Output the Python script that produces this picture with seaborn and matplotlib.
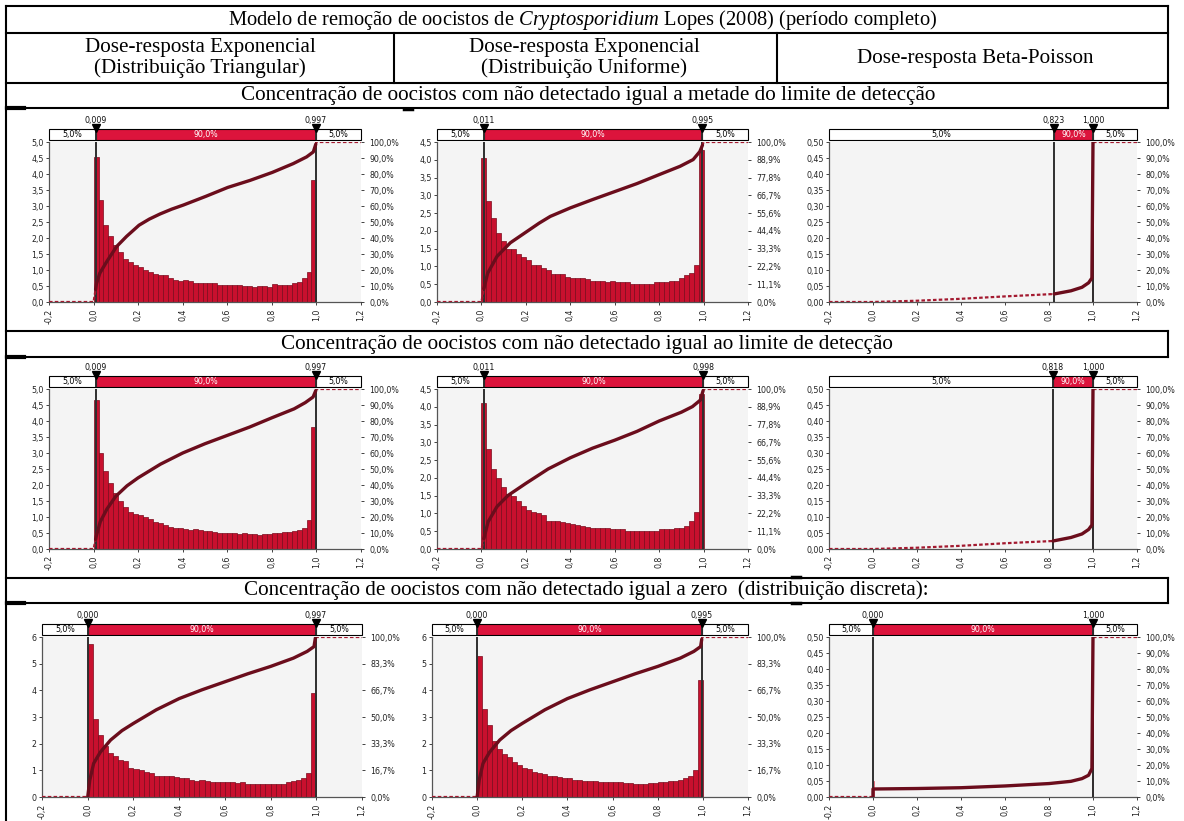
import numpy as np
import pandas as pd
import matplotlib
matplotlib.use("Agg")
import matplotlib.pyplot as plt
import seaborn as sns
from matplotlib.lines import Line2D

sns.set_theme(style="ticks")
plt.rcParams["font.family"] = ["DejaVu Sans"]
plt.rcParams["mathtext.fontset"] = "custom"
plt.rcParams["mathtext.rm"] = "Liberation Serif"
plt.rcParams["mathtext.it"] = "Liberation Serif:italic"

# ------------------------------------------------------------------ data
title_text = "Modelo de remoção de oocistos de $\\mathit{Cryptosporidium}$ Lopes (2008) (período completo)"
col_headers = ["Dose-resposta Exponencial\n(Distribuição Triangular)",
               "Dose-resposta Exponencial\n(Distribuição Uniforme)",
               "Dose-resposta Beta-Poisson"]
row_titles = ["Concentração de oocistos com não detectado igual a metade do limite de detecção",
              "Concentração de oocistos com não detectado igual ao limite de detecção",
              "Concentração de oocistos com não detectado igual a zero  (distribuição discreta):"]

band_labels = ["5,0%", "90,0%", "5,0%"]
x_ticks = [-0.2, 0.0, 0.2, 0.4, 0.6, 0.8, 1.0, 1.2]

lower_delim = [0.009, 0.011, 0.823, 0.009, 0.011, 0.818, 0.000, 0.000, 0.000]
upper_delim = [0.997, 0.995, 1.000, 0.997, 0.998, 1.000, 0.997, 0.995, 1.000]

ticks_50 = [0.0, 0.5, 1.0, 1.5, 2.0, 2.5, 3.0, 3.5, 4.0, 4.5, 5.0]
ticks_45 = [0.0, 0.5, 1.0, 1.5, 2.0, 2.5, 3.0, 3.5, 4.0, 4.5]
ticks_05 = [0.0, 0.05, 0.10, 0.15, 0.20, 0.25, 0.30, 0.35, 0.40, 0.45, 0.50]
ticks_6 = [0, 1, 2, 3, 4, 5, 6]
y_ticks = [ticks_50, ticks_45, ticks_05, ticks_50, ticks_45, ticks_05, ticks_6, ticks_6, ticks_05]
y_dec = [1, 1, 2, 1, 1, 2, 0, 0, 2]

# histogram densities (45 equal bins between 0 and 1)
tri_half = [4.53, 3.2, 2.4, 2.05, 1.78, 1.57, 1.35, 1.25, 1.15, 1.1,
            1.0, 0.95, 0.88, 0.85, 0.85, 0.75, 0.7, 0.65, 0.7, 0.65,
            0.6, 0.6, 0.6, 0.6, 0.6, 0.52, 0.52, 0.52, 0.52, 0.52,
            0.5, 0.5, 0.48, 0.5, 0.5, 0.48, 0.55, 0.52, 0.52, 0.52,
            0.58, 0.62, 0.75, 0.95, 3.8]
uni_half = [4.05, 2.85, 2.37, 1.93, 1.72, 1.5, 1.5, 1.35, 1.27, 1.17,
            1.05, 1.05, 0.95, 0.9, 0.8, 0.8, 0.8, 0.7, 0.68, 0.68,
            0.68, 0.65, 0.6, 0.6, 0.6, 0.55, 0.6, 0.57, 0.55, 0.57,
            0.52, 0.52, 0.52, 0.5, 0.52, 0.55, 0.55, 0.55, 0.6, 0.6,
            0.68, 0.75, 0.82, 1.05, 4.27]
tri_lim = [4.65, 3.0, 2.45, 2.05, 1.75, 1.5, 1.3, 1.15, 1.1, 1.05,
           1.0, 0.95, 0.85, 0.8, 0.75, 0.7, 0.65, 0.65, 0.62, 0.6,
           0.62, 0.6, 0.55, 0.55, 0.52, 0.5, 0.5, 0.5, 0.5, 0.48,
           0.5, 0.48, 0.48, 0.45, 0.48, 0.48, 0.5, 0.5, 0.52, 0.52,
           0.55, 0.6, 0.65, 0.9, 3.8]
uni_lim = [4.1, 2.8, 2.25, 2.0, 1.75, 1.55, 1.5, 1.35, 1.2, 1.1,
           1.05, 1.0, 0.95, 0.8, 0.8, 0.8, 0.75, 0.72, 0.7, 0.68,
           0.65, 0.62, 0.6, 0.58, 0.58, 0.58, 0.55, 0.55, 0.55, 0.52,
           0.5, 0.5, 0.5, 0.52, 0.5, 0.5, 0.55, 0.55, 0.55, 0.58,
           0.6, 0.65, 0.8, 1.05, 4.35]
tri_zero = [5.75, 2.93, 2.33, 1.93, 1.65, 1.55, 1.4, 1.35, 1.1, 1.05,
            1.0, 0.95, 0.9, 0.8, 0.8, 0.8, 0.8, 0.75, 0.7, 0.7,
            0.65, 0.6, 0.62, 0.6, 0.58, 0.58, 0.58, 0.55, 0.55, 0.52,
            0.55, 0.5, 0.48, 0.5, 0.5, 0.5, 0.5, 0.5, 0.5, 0.55,
            0.6, 0.62, 0.7, 0.9, 3.9]
uni_zero = [5.3, 3.3, 2.7, 2.1, 1.8, 1.6, 1.5, 1.3, 1.2, 1.1,
            1.05, 0.95, 0.9, 0.85, 0.8, 0.8, 0.75, 0.7, 0.7, 0.65,
            0.65, 0.6, 0.6, 0.6, 0.58, 0.58, 0.55, 0.55, 0.55, 0.52,
            0.52, 0.5, 0.5, 0.5, 0.52, 0.52, 0.55, 0.55, 0.6, 0.6,
            0.65, 0.7, 0.8, 1.0, 4.4]
hist_heights = {0: tri_half, 1: uni_half, 3: tri_lim, 4: uni_lim, 6: tri_zero, 7: uni_zero}

# Beta-Poisson spikes (bin left, bin right, density; tall ones are clipped)
bp_spikes = {2: [(0.995, 1.0, 40.0)],
             5: [(0.995, 1.0, 40.0)],
             8: [(0.0, 0.003, 0.05), (0.995, 1.0, 40.0)]}

# cumulative curves (x, cumulative %)
cdf_tri_half_x = [-0.2, 0.0, 0.013, 0.028, 0.058, 0.103, 0.148, 0.204, 0.25, 0.298, 0.35, 0.403,
                  0.503, 0.602, 0.702, 0.802, 0.896, 0.956, 0.986, 0.998, 1.0, 1.2]
cdf_tri_half_p = [0, 0, 11.4, 18, 25, 34.6, 41, 48, 51.8, 55, 58, 60.6,
                  66, 71.6, 76, 81, 86.5, 90.7, 93.8, 99, 100, 100]
cdf_uni_half_x = [-0.2, 0.0, 0.01, 0.028, 0.07, 0.13, 0.204, 0.26, 0.31, 0.4, 0.5, 0.6,
                  0.7, 0.8, 0.894, 0.953, 0.983, 0.998, 1.0, 1.2]
cdf_uni_half_p = [0, 0, 7.7, 18, 28.5, 37, 44, 49.3, 53.5, 58.8, 64, 69,
                  74, 79.6, 84.8, 89, 94, 99, 100, 100]
cdf_tri_lim_x = [-0.2, 0.0, 0.012, 0.03, 0.06, 0.1, 0.15, 0.2, 0.3, 0.4, 0.5,
                 0.6, 0.7, 0.8, 0.9, 0.95, 0.985, 0.997, 1.0, 1.2]
cdf_tri_lim_p = [0, 0, 8, 17, 25, 33, 39.5, 44.5, 53, 60, 65.8,
                 71, 76.2, 82, 87.6, 91.5, 95, 99, 100, 100]
cdf_uni_lim_x = [-0.2, 0.0, 0.012, 0.03, 0.07, 0.12, 0.2, 0.3, 0.4, 0.5, 0.6,
                 0.7, 0.8, 0.9, 0.95, 0.985, 0.998, 1.0, 1.2]
cdf_uni_lim_p = [0, 0, 7, 17, 26.5, 33.5, 41, 50, 57, 63, 68,
                 73.5, 80, 85.5, 89, 93, 99, 100, 100]
cdf_tri_zero_x = [-0.2, 0.0, 0.009, 0.026, 0.055, 0.1, 0.15, 0.2, 0.3, 0.4, 0.5, 0.6,
                  0.7, 0.8, 0.9, 0.96, 0.99, 0.996, 1.0, 1.2]
cdf_tri_zero_p = [0, 0, 10.5, 21, 28, 35.6, 41.5, 46, 54.5, 61.5, 67, 72,
                  77, 81.6, 86.8, 91, 94, 99.4, 100, 100]
cdf_bp_half_x = [-0.2, 0.0, 0.2, 0.4, 0.6, 0.823, 0.9, 0.95, 0.98, 0.995, 1.0, 1.2]
cdf_bp_half_p = [0, 0, 0.8, 2.0, 3.5, 5.0, 7.0, 9.2, 12.0, 15.0, 100, 100]
cdf_bp_lim_x = [-0.2, 0.0, 0.2, 0.4, 0.6, 0.818, 0.9, 0.95, 0.98, 0.995, 1.0, 1.2]
cdf_bp_lim_p = [0, 0, 0.8, 2.0, 3.6, 5.0, 7.2, 9.4, 12.2, 15.0, 100, 100]
cdf_bp_zero_x = [-0.2, 0.0, 0.0, 0.2, 0.4, 0.6, 0.8, 0.9, 0.95, 0.98, 0.995, 1.0, 1.2]
cdf_bp_zero_p = [0, 0, 5.0, 5.3, 5.8, 6.9, 8.4, 9.8, 11.5, 13.6, 17.8, 100, 100]
cdf_curves = {0: (cdf_tri_half_x, cdf_tri_half_p), 1: (cdf_uni_half_x, cdf_uni_half_p),
              2: (cdf_bp_half_x, cdf_bp_half_p),
              3: (cdf_tri_lim_x, cdf_tri_lim_p), 4: (cdf_uni_lim_x, cdf_uni_lim_p),
              5: (cdf_bp_lim_x, cdf_bp_lim_p),
              6: (cdf_tri_zero_x, cdf_tri_zero_p), 7: (cdf_tri_zero_x, cdf_tri_zero_p),
              8: (cdf_bp_zero_x, cdf_bp_zero_p)}

# ------------------------------------------------------------------ layout / style
W, H = 1184, 821
fig = plt.figure(figsize=(W / 100, H / 100), dpi=100)
fig.patch.set_facecolor("white")

RED = "#DC143C"
BAR_FACE = "#C8102E"
BAR_EDGE = "#7A0A1C"
CDF_COL = "#6B0D1C"
DASH_COL = "#A3192F"
DELIM_COL = "#2E2E2E"
TICK_FS = 5.7
SERIF_FS = 15.2
TITLE_FS = 14.8


def rect(x0, y0, x1, y1):
    return [x0 / W, 1 - y1 / H, (x1 - x0) / W, (y1 - y0) / H]


def hline(y, x0, x1, lw=1.5):
    fig.add_artist(Line2D([x0 / W, x1 / W], [1 - y / H, 1 - y / H], color="black", lw=lw,
                          transform=fig.transFigure, solid_capstyle="projecting"))


def vline(x, y0, y1, lw=1.5):
    fig.add_artist(Line2D([x / W, x / W], [1 - y0 / H, 1 - y1 / H], color="black", lw=lw,
                          transform=fig.transFigure, solid_capstyle="projecting"))


def comma(v, nd):
    return f"{v:.{nd}f}".replace(".", ",")


def cdf_segments(xs, ps, lo, hi):
    xs = np.asarray(xs, float)
    ps = np.asarray(ps, float)
    b_lo = [] if np.any(np.isclose(xs, lo)) else [(lo, float(np.interp(lo, xs, ps)))]
    b_hi = [] if np.any(np.isclose(xs, hi)) else [(hi, float(np.interp(hi, xs, ps)))]
    pts = list(zip(xs, ps))
    left = [q for q in pts if q[0] <= lo + 1e-9] + b_lo
    mid = b_lo + [q for q in pts if lo - 1e-9 <= q[0] <= hi + 1e-9] + b_hi
    right = b_hi + [q for q in pts if q[0] >= hi - 1e-9]
    return left, mid, right


plot_y = [(142, 302), (389, 549), (637, 797)]
bar_y = [(129, 140), (376, 387), (624, 635)]
col_x = [[(49, 361), (437, 748), (829, 1137)],
         [(49, 361), (437, 748), (829, 1137)],
         [(42, 362), (432, 748), (829, 1137)]]

for k in range(9):
    r, c = divmod(k, 3)
    x0, x1 = col_x[r][c]
    y0, y1 = plot_y[r]
    b0, b1 = bar_y[r]
    lo, hi = lower_delim[k], upper_delim[k]
    yt = y_ticks[k]
    ymax = yt[-1]

    ax = fig.add_axes(rect(x0, y0, x1, y1))
    ax.set_facecolor("#F4F4F4")
    if k in hist_heights:
        h = [float(v) for v in hist_heights[k]]
        edges = [float(e) for e in np.linspace(0, 1, len(h) + 1)]
        centers = [(edges[i] + edges[i + 1]) / 2 for i in range(len(h))]
        df = pd.DataFrame({"x": centers, "w": h})
        sns.histplot(data=df, x="x", weights="w", bins=edges, ax=ax, color=BAR_FACE, alpha=1,
                     edgecolor=BAR_EDGE, linewidth=0.5)
    else:
        for (a, b, hh) in bp_spikes[k]:
            df = pd.DataFrame({"x": [(a + b) / 2], "w": [hh]})
            sns.histplot(data=df, x="x", weights="w", bins=[a, b], ax=ax, color=BAR_FACE,
                         alpha=1, edgecolor="#E06070", linewidth=0.5)
    ax.set_xlim(-0.2, 1.2)
    ax.set_ylim(0, ymax)
    ax.set_xlabel("")
    ax.set_ylabel("")
    ax.set_yticks(yt)
    ax.set_yticklabels([comma(v, y_dec[k]) for v in yt])
    ax.set_xticks(x_ticks)
    ax.set_xticklabels([comma(v, 1) for v in x_ticks], rotation=90)
    ax.tick_params(axis="both", labelsize=TICK_FS, length=2.5, width=0.6, pad=1.5,
                   colors="#222222", direction="out", bottom=True, left=True)
    ax.tick_params(axis="x", pad=2)
    for s in ["top", "right"]:
        ax.spines[s].set_visible(False)
    for s in ["left", "bottom"]:
        ax.spines[s].set_color("#555555")
        ax.spines[s].set_linewidth(0.9)

    ax2 = ax.twinx()
    ax2.set_ylim(0, 100)
    pct = [v / ymax * 100 for v in yt]
    ax2.set_yticks(pct)
    ax2.set_yticklabels([comma(p, 1) + "%" for p in pct])
    ax2.tick_params(axis="y", labelsize=TICK_FS, length=2, width=0.6, pad=4,
                    colors="#222222", right=True)
    for s in ax2.spines.values():
        s.set_visible(False)
    ax2.axvline(lo, color=DELIM_COL, lw=1.4, zorder=2)
    ax2.axvline(hi, color=DELIM_COL, lw=1.4, zorder=2)

    cx, cp = cdf_curves[k]
    left, mid, right = cdf_segments(cx, cp, lo, hi)
    for seg, style in [(left, "dash"), (right, "dash"), (mid, "solid")]:
        if len(seg) < 2:
            continue
        sdf = pd.DataFrame({"x": [q[0] for q in seg], "p": [q[1] for q in seg]})
        if style == "solid":
            sns.lineplot(data=sdf, x="x", y="p", ax=ax2, color=CDF_COL, lw=2.4, estimator=None,
                         sort=False, legend=False, zorder=4)
        else:
            sns.lineplot(data=sdf, x="x", y="p", ax=ax2, color=DASH_COL, lw=1.6, estimator=None,
                         sort=False, legend=False, linestyle=(0, (1.6, 1.0)), zorder=3)
    ax2.set_xlim(-0.2, 1.2)
    ax2.set_xlabel("")
    ax2.set_ylabel("")

    # delimiter band above the chart
    axb = fig.add_axes(rect(x0, b0, x1, b1))
    axb.set_xlim(-0.2, 1.2)
    axb.set_ylim(0, 1)
    axb.axis("off")
    lefts = [-0.2, lo, hi]
    widths = [lo + 0.2, hi - lo, 1.2 - hi]
    bars = axb.barh([0.5, 0.5, 0.5], widths, left=lefts, height=1,
                    color=["white", RED, "white"], edgecolor="black", linewidth=0.8)
    for p in bars.patches:
        p.set_clip_on(False)
    for i, (l, w_, lab) in enumerate(zip(lefts, widths, band_labels)):
        axb.text(l + w_ / 2, 0.5, lab, ha="center", va="center", fontsize=TICK_FS,
                 color="white" if i == 1 else "black")
    axb.vlines([lo, hi], 0, 1, color=DELIM_COL, lw=1.4)
    axb.plot([lo, hi], [1.12, 1.12], ls="none", marker="v", ms=5.5, color="black",
             clip_on=False)
    for v in (lo, hi):
        axb.text(v, 1.75, comma(v, 3), ha="center", va="center", fontsize=TICK_FS,
                 color="#111111", clip_on=False)

# ------------------------------------------------------------------ table frame and text
vline(6, 6, 821)
vline(1168, 6, 108)
for y in (6, 33, 83, 108):
    hline(y, 6, 1168)
vline(394, 33, 83)
vline(777, 33, 83)
for (ya, yb) in [(331, 357), (578, 603)]:
    hline(ya, 6, 1168)
    hline(yb, 6, 1168)
    vline(1168, ya, yb)
for y in (108, 357, 603):
    hline(y, 7, 24, lw=3)
hline(109, 404, 412, lw=2.5)
hline(577, 792, 800, lw=2.5)
hline(603, 792, 800, lw=2.5)

serif = dict(family="Liberation Serif", color="black", ha="center", va="center")
fig.text(583 / W, 1 - 19.5 / H, title_text, fontsize=TITLE_FS, **serif)
for cx_, txt in zip([200, 584, 975], col_headers):
    fig.text(cx_ / W, 1 - 58 / H, txt, linespacing=1.05, fontsize=SERIF_FS, **serif)
for cy, cxx, txt in zip([95.5, 344, 590.5], [588, 587, 586], row_titles):
    fig.text(cxx / W, 1 - cy / H, txt, fontsize=SERIF_FS, **serif)

fig.savefig("out.png", dpi=100)
